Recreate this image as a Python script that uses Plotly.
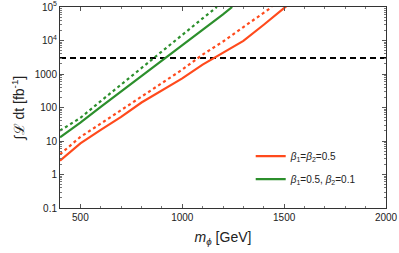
import plotly.graph_objects as go

# Data (x: m_phi in GeV, y: integrated luminosity in fb^-1)
red_solid_x = [400, 500, 600, 700, 800, 900, 1000, 1100, 1200, 1300, 1400, 1500, 1510]
red_solid_y = [2.57, 8.5, 21.4, 52.5, 141, 316, 741, 1905, 4266, 9772, 29512, 93325, 104700]

red_dot_x = [400, 500, 600, 700, 800, 900, 1000, 1100, 1200, 1300, 1400, 1440]
red_dot_y = [4.0, 13.2, 33, 83, 214, 525, 1350, 3800, 9330, 25100, 69200, 100000]

green_solid_x = [400, 500, 600, 700, 800, 900, 1000, 1100, 1200, 1245]
green_solid_y = [12.9, 35.5, 105, 302, 851, 2455, 7080, 20400, 60300, 100000]

green_dot_x = [400, 500, 600, 700, 800, 900, 1000, 1100, 1170]
green_dot_y = [20.4, 49, 155, 490, 1510, 4790, 14800, 45700, 100000]

limit_x = [400, 2000]
limit_y = [3000, 3000]

y_tickvals = [0.1, 1, 10, 100, 1000, 10000, 100000]
y_ticktext = ["0.1", "1", "10", "100", "1000", "10<sup>4</sup>", "10<sup>5</sup>"]
x_tickvals = [500, 1000, 1500, 2000]

RED = "#ff4a1c"
GREEN = "#2c8f2c"

fig = go.Figure()
fig.add_trace(go.Scatter(x=limit_x, y=limit_y, mode="lines",
                         line=dict(color="black", width=2, dash="6px,4px"),
                         showlegend=False, hoverinfo="skip"))
fig.add_trace(go.Scatter(x=red_dot_x, y=red_dot_y, mode="lines",
                         line=dict(color=RED, width=2.2, dash="dot"), showlegend=False))
fig.add_trace(go.Scatter(x=green_dot_x, y=green_dot_y, mode="lines",
                         line=dict(color=GREEN, width=2.2, dash="dot"), showlegend=False))
fig.add_trace(go.Scatter(x=red_solid_x, y=red_solid_y, mode="lines",
                         line=dict(color=RED, width=2.2),
                         name="<i>β</i><sub>1</sub>=<i>β</i><sub>2</sub>=0.5", legendgroup="a"))
fig.add_trace(go.Scatter(x=green_solid_x, y=green_solid_y, mode="lines",
                         line=dict(color=GREEN, width=2.2),
                         name="<i>β</i><sub>1</sub>=0.5, <i>β</i><sub>2</sub>=0.1", legendgroup="b"))

axis_common = dict(showline=True, linecolor="#333", linewidth=1, mirror="ticks",
                   ticks="inside", tickcolor="#555", showgrid=False, zeroline=False,
                   automargin=False,
                   tickfont=dict(family="Liberation Sans, Arial", size=10, color="#222"))

fig.update_xaxes(range=[400, 2000], tickvals=x_tickvals, ticklen=4,
                 minor=dict(ticks="inside", dtick=100, ticklen=2, tickcolor="#777"),
                 title=dict(text="<i>m</i><sub><i>ϕ</i></sub> [GeV]", standoff=10,
                            font=dict(family="Liberation Sans, Arial", size=14, color="#222")),
                 **axis_common)
fig.update_yaxes(type="log", range=[-1, 5], tickvals=y_tickvals, ticktext=y_ticktext, ticklen=4,
                 minor=dict(ticks="inside", dtick="D1", ticklen=2, tickcolor="#777"),
                 title=dict(text="∫ℒ dt [fb<sup>-1</sup>]", standoff=6,
                            font=dict(family="Liberation Sans, Arial", size=14, color="#222")),
                 **axis_common)

fig.update_layout(
    width=399, height=253,
    margin=dict(l=60, r=13, t=7, b=45),
    paper_bgcolor="white", plot_bgcolor="white",
    legend=dict(x=0.585, y=0.33, xanchor="left", yanchor="top",
                bgcolor="rgba(0,0,0,0)", traceorder="grouped", tracegroupgap=4,
                itemwidth=30,
                font=dict(family="Liberation Sans, Arial", size=10, color="#222")),
)

fig.write_html("out.html", config={"displayModeBar": False},
               post_script="document.body.style.margin='0';document.body.style.padding='0';")
